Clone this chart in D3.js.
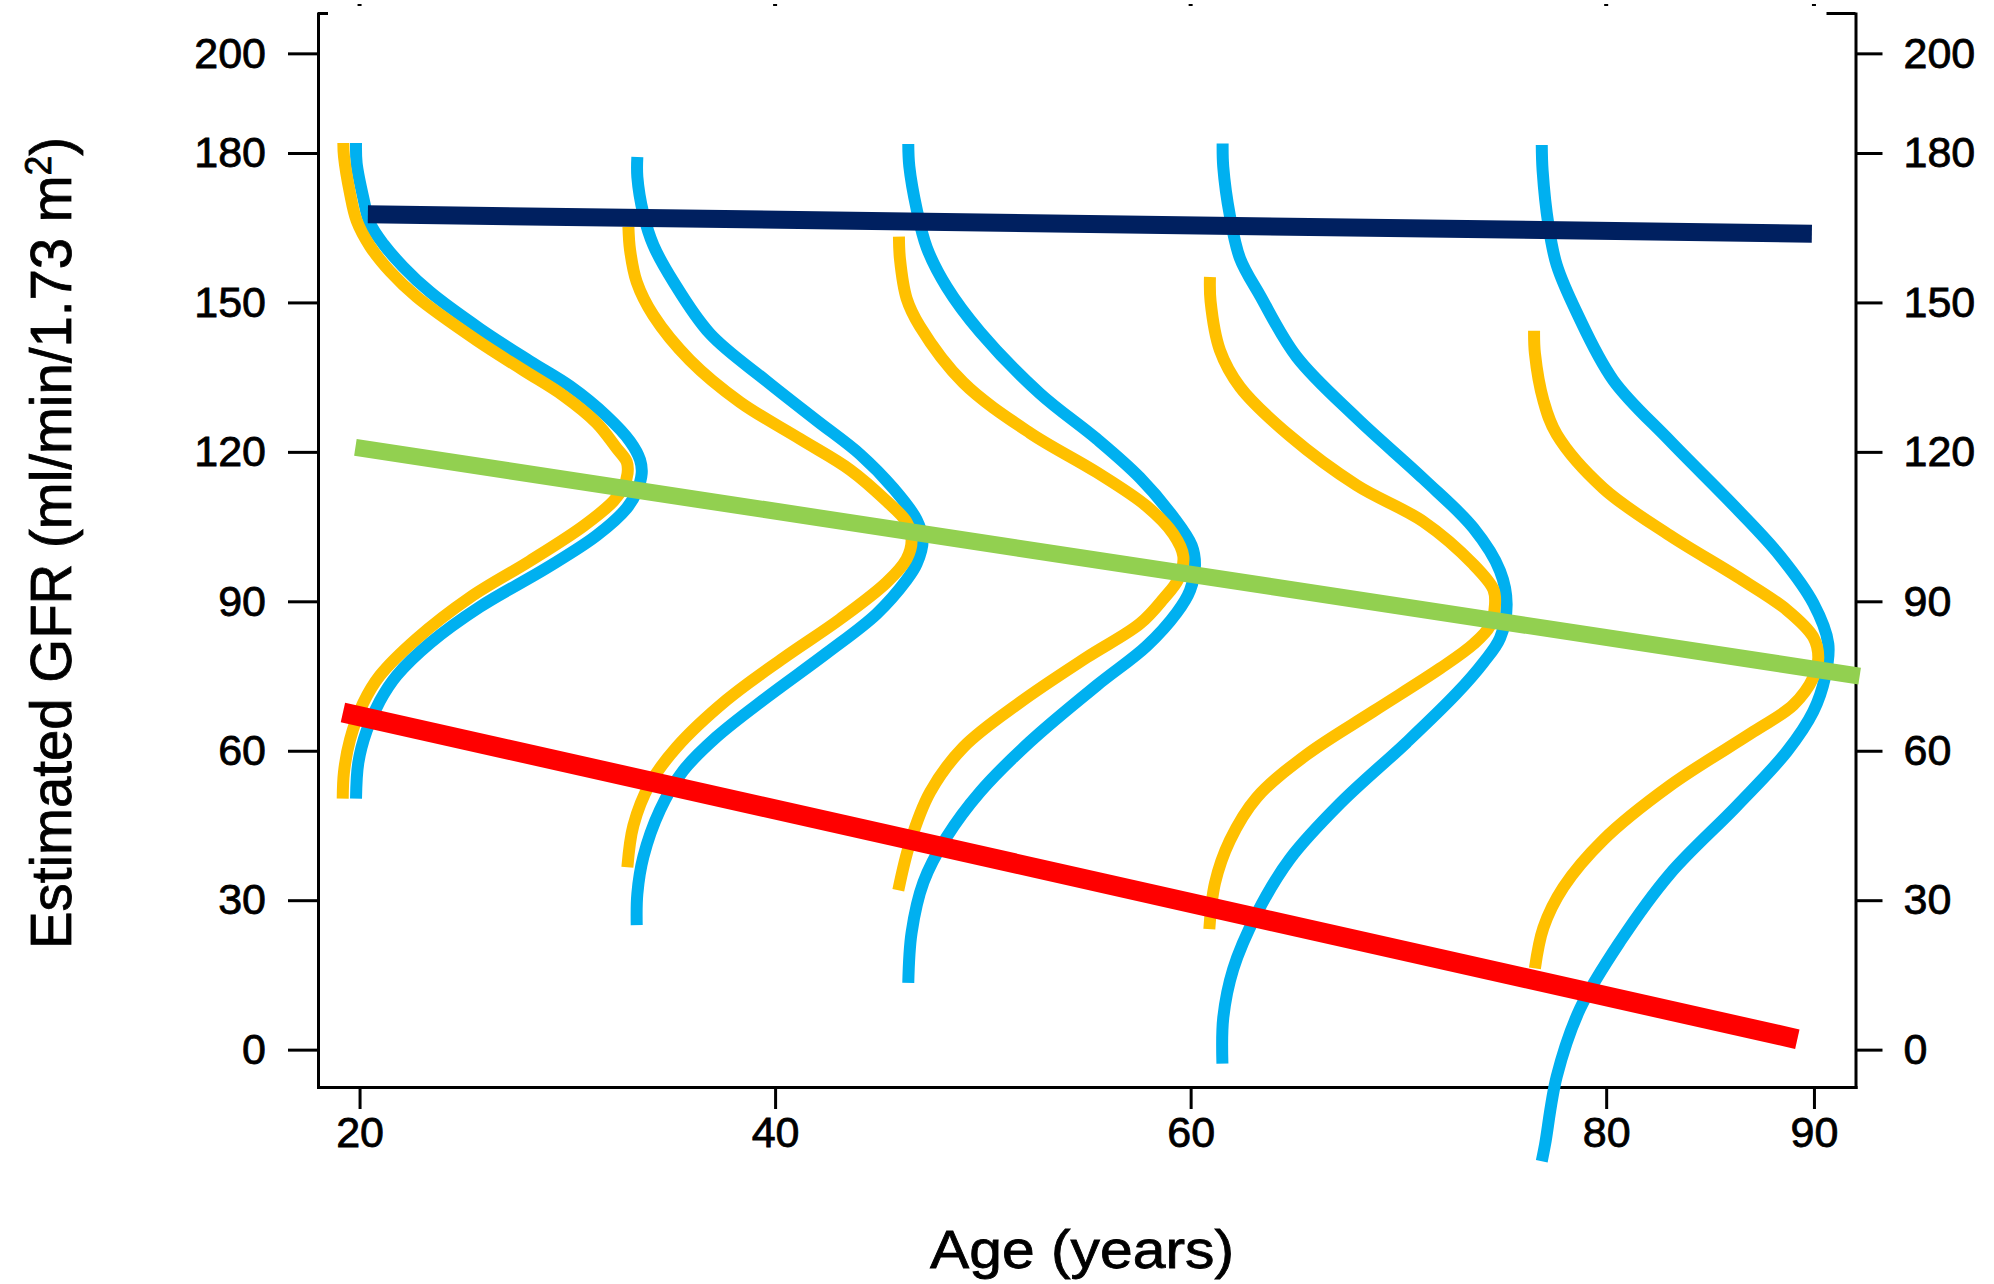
<!DOCTYPE html>
<html>
<head>
<meta charset="utf-8">
<title>Estimated GFR by age</title>
<script src="https://cdn.jsdelivr.net/npm/d3@7"></script>
<style>
  body { margin: 0; background: #fff; }
  svg text { font-family: "Liberation Sans", Arial, sans-serif; fill: #000; stroke: #000; stroke-width: 0.8px; }
</style>
</head>
<body>
<div id="chart"></div>
<script>
// tick values
var xTicks = [20, 40, 60, 80, 90];
var yTicks = [0, 30, 60, 90, 120, 150, 180, 200];

// straight lines, [age, GFR] at each end
var navyLine  = [[20.4, 167.7], [89.9, 163.8]];
var greenLine = [[19.8, 120.9], [92.2, 75.0]];
var redLine   = [[19.2, 67.7], [89.2, 2.1]];

// distribution curves, [age, GFR], read from top to bottom
var blue20 = [[19.83,182.0],[19.86,177.9],[20.18,171.0],[20.50,165.9],[21.15,161.7],[22.11,157.1],[23.39,152.1],[25.80,144.7],[28.20,138.2],[30.13,133.2],[31.89,127.2],[33.02,122.1],[33.50,118.4],[33.58,115.7],[33.34,112.0],[32.86,108.7],[31.41,103.2],[29.01,96.7],[25.80,88.9],[23.39,81.6],[21.79,75.1],[20.98,70.0],[20.34,64.0],[19.94,57.6],[19.83,50.4]];
var yellow20 = [[19.22,182.0],[19.25,179.3],[19.54,171.9],[19.86,166.4],[20.50,161.3],[21.47,156.2],[22.75,151.1],[25.64,142.4],[27.88,136.4],[29.81,131.3],[31.41,125.8],[32.38,120.7],[32.86,118.0],[32.90,115.7],[32.70,112.9],[32.22,110.1],[30.77,105.1],[28.20,98.1],[25.32,90.8],[22.75,82.5],[20.98,75.1],[20.18,69.6],[19.54,62.2],[19.25,55.7],[19.19,50.4]];

var blue33 = [[33.37,179.2],[33.37,175.2],[33.66,167.8],[34.14,161.5],[35.10,154.2],[36.87,143.7],[39.59,134.2],[42.00,126.3],[44.09,119.5],[45.69,112.7],[46.81,106.4],[47.10,102.2],[46.81,97.5],[46.33,94.3],[44.89,87.5],[42.48,79.6],[39.59,70.7],[37.19,62.8],[35.58,56.0],[34.46,48.1],[33.66,38.7],[33.37,31.3],[33.34,25.0]];
var yellow33 = [[32.94,165.2],[33.02,160.5],[33.34,154.1],[34.14,147.4],[35.90,138.4],[38.31,130.0],[41.20,122.6],[43.61,116.4],[45.37,110.1],[46.33,105.9],[46.57,102.2],[46.33,98.5],[45.37,93.8],[43.12,86.4],[40.40,78.6],[37.67,70.2],[35.26,60.7],[33.98,53.4],[33.18,45.0],[32.89,36.6]];

var blue46 = [[46.41,181.8],[46.46,177.3],[46.81,168.8],[47.30,161.0],[48.26,153.1],[49.86,144.1],[52.75,131.7],[55.48,122.6],[57.56,114.8],[59.17,106.9],[60.05,101.2],[60.21,97.3],[59.97,92.2],[59.33,87.7],[57.88,81.0],[55.48,73.1],[52.27,61.8],[49.86,51.7],[48.26,42.7],[47.14,33.6],[46.57,23.5],[46.41,13.4]];
var yellow46 = [[45.96,163.2],[46.01,158.7],[46.33,150.8],[46.97,145.2],[49.06,133.9],[52.27,123.8],[55.48,115.9],[57.88,109.1],[59.17,103.5],[59.65,99.0],[59.41,94.5],[58.69,90.5],[57.56,85.5],[54.99,78.7],[51.79,69.7],[49.06,60.7],[47.46,51.7],[46.49,41.5],[45.93,32.0]];

var blue61 = [[61.54,181.9],[61.57,177.2],[61.89,167.4],[62.38,158.8],[63.34,151.4],[65.10,139.1],[67.99,126.8],[71.20,114.6],[73.61,104.7],[74.89,96.1],[75.21,89.4],[74.89,82.6],[74.09,77.7],[72.80,71.5],[70.40,61.7],[67.19,49.4],[64.78,38.3],[63.18,27.3],[62.05,16.2],[61.57,6.4],[61.53,-2.8]];
var yellow61 = [[60.93,155.1],[60.96,150.2],[61.41,140.4],[62.38,133.0],[64.78,123.2],[67.99,113.3],[71.20,106.0],[73.61,97.4],[74.57,92.4],[74.65,89.4],[74.41,85.1],[73.61,81.4],[72.00,76.5],[68.79,67.9],[65.58,59.2],[63.18,50.6],[61.89,42.0],[61.17,33.4],[60.90,24.2]];

var blue77 = [[76.90,181.6],[76.94,176.5],[77.22,165.6],[77.62,157.5],[78.58,148.0],[80.34,134.4],[83.07,122.2],[86.28,108.6],[88.37,99.1],[89.97,89.6],[90.69,81.5],[90.53,74.7],[89.97,67.9],[88.69,59.8],[86.28,48.9],[83.07,35.3],[80.67,21.7],[78.74,8.2],[77.62,-5.4],[77.06,-19.0],[76.90,-22.4]];
var yellow77 = [[76.53,144.3],[76.57,139.8],[76.98,130.3],[77.62,123.5],[79.86,112.7],[83.07,103.2],[86.28,95.0],[88.69,88.3],[89.97,82.8],[90.21,78.7],[89.97,74.7],[89.01,69.2],[87.08,63.8],[83.07,53.0],[79.86,42.1],[77.94,32.6],[76.98,24.5],[76.57,16.3]];

var w = 1994, h = 1284;
var svg = d3.select('#chart').append('svg')
  .attr('width', w)
  .attr('height', h);
svg.append('rect').attr('width', w).attr('height', h).attr('fill', '#fff');

var x = d3.scaleLinear().domain([18, 92]).range([318, 1855.5]);
var y = d3.scaleLinear().domain([-7.5, 208]).range([1087, 13.5]);

// axes
function styleAxis(g) {
  g.attr('font-size', null).attr('font-family', null);
  g.selectAll('path.domain').attr('stroke', '#000').attr('stroke-width', 3).attr('stroke-linecap', 'square');
  g.selectAll('.tick line').attr('stroke', '#000').attr('stroke-width', 3);
  g.selectAll('text').style('font-size', '43px');
}

svg.append('g')
  .attr('transform', 'translate(' + x(18) + ',0)')
  .call(d3.axisLeft(y).tickValues(yTicks).tickSize(30).tickSizeOuter(0).tickPadding(22))
  .call(styleAxis);

svg.append('g')
  .attr('transform', 'translate(' + x(92) + ',0)')
  .call(d3.axisRight(y).tickValues(yTicks).tickSize(27).tickSizeOuter(0).tickPadding(21))
  .call(styleAxis);

svg.append('g')
  .attr('transform', 'translate(0,' + y(-7.5) + ')')
  .call(d3.axisBottom(x).tickValues(xTicks).tickSize(22).tickSizeOuter(0).tickPadding(7))
  .call(styleAxis);

// little corner stubs at the top of the frame
svg.append('line')
  .attr('x1', x(18)).attr('x2', x(18) + 10)
  .attr('y1', y(208)).attr('y2', y(208))
  .attr('stroke', '#000').attr('stroke-width', 3);
svg.append('line')
  .attr('x1', x(92) - 29).attr('x2', x(92))
  .attr('y1', y(208)).attr('y2', y(208))
  .attr('stroke', '#000').attr('stroke-width', 3);

// faint top tick remnants
svg.selectAll('rect.toptick')
  .data(xTicks)
  .enter()
  .append('rect')
  .attr('class', 'toptick')
  .attr('x', function(d) { return x(d) - 2; })
  .attr('y', 4)
  .attr('width', 4)
  .attr('height', 2)
  .attr('fill', '#000');

// axis titles
svg.append('text')
  .attr('x', 1082)
  .attr('y', 1268)
  .attr('text-anchor', 'middle')
  .attr('textLength', 304)
  .attr('lengthAdjust', 'spacingAndGlyphs')
  .style('font-size', '54px')
  .text('Age (years)');

var yt = svg.append('text')
  .attr('transform', 'translate(71,543) rotate(-90)')
  .attr('text-anchor', 'middle')
  .attr('textLength', 812)
  .attr('lengthAdjust', 'spacingAndGlyphs')
  .style('font-size', '58px');
yt.append('tspan').text('Estimated GFR (ml/min/1.73 m');
yt.append('tspan').attr('baseline-shift', 'super').style('font-size', '36px').text('2');
yt.append('tspan').text(')');

// curves
var curveLine = d3.line()
  .x(function(d) { return x(d[0]); })
  .y(function(d) { return y(d[1]); })
  .curve(d3.curveCatmullRom.alpha(0.5));

var blues = [blue20, blue33, blue46, blue61, blue77];
var yellows = [yellow20, yellow33, yellow46, yellow61, yellow77];

svg.selectAll('path.blue')
  .data(blues)
  .enter()
  .append('path')
  .attr('class', 'blue')
  .attr('d', curveLine)
  .attr('fill', 'none')
  .attr('stroke', '#00B0F0')
  .attr('stroke-width', 12);

svg.selectAll('path.yellow')
  .data(yellows)
  .enter()
  .append('path')
  .attr('class', 'yellow')
  .attr('d', curveLine)
  .attr('fill', 'none')
  .attr('stroke', '#FFC000')
  .attr('stroke-width', 12);

// straight lines on top
var straight = d3.line()
  .x(function(d) { return x(d[0]); })
  .y(function(d) { return y(d[1]); });

var lines = [
  {pts: navyLine, color: '#002060', width: 18},
  {pts: greenLine, color: '#92D050', width: 17},
  {pts: redLine, color: '#FF0000', width: 20}
];
svg.selectAll('path.trend')
  .data(lines)
  .enter()
  .append('path')
  .attr('class', 'trend')
  .attr('d', function(d) { return straight(d.pts); })
  .attr('fill', 'none')
  .attr('stroke', function(d) { return d.color; })
  .attr('stroke-width', function(d) { return d.width; });
</script>
</body>
</html>
